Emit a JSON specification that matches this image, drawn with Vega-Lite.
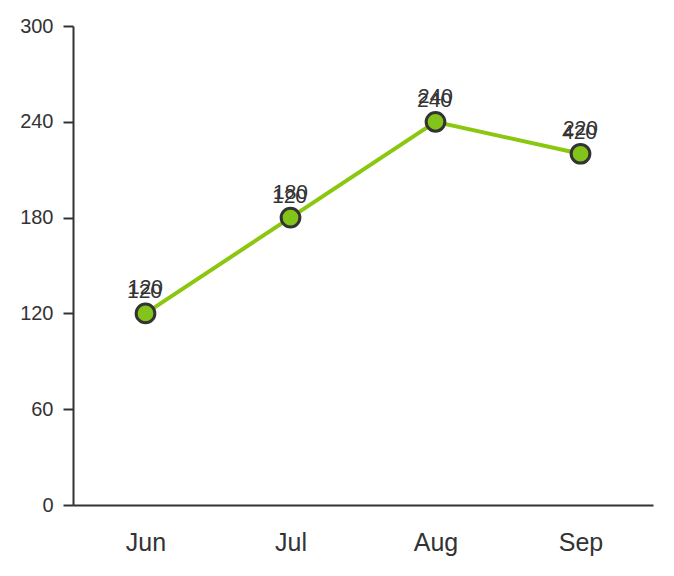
{
  "$schema": "https://vega.github.io/schema/vega-lite/v6.json",
  "width": 580,
  "height": 479,
  "autosize": "none",
  "padding": {"left": 73, "top": 26, "right": 21, "bottom": 71},
  "config": {
    "view": {"stroke": null},
    "font": "Liberation Sans",
    "axis": {"grid": false, "domainColor": "#333", "domainWidth": 2, "tickColor": "#333", "tickWidth": 2, "labelColor": "#333", "titleColor": "#333"}
  },
  "data": {
    "values": [
      {"month": "Jun", "value": 120, "other": 120},
      {"month": "Jul", "value": 180, "other": 120},
      {"month": "Aug", "value": 240, "other": 240},
      {"month": "Sep", "value": 220, "other": 420}
    ]
  },
  "encoding": {
    "x": {
      "field": "month",
      "type": "ordinal",
      "sort": null,
      "scale": {"type": "point", "padding": 0.5},
      "axis": {"title": null, "ticks": false, "labelAngle": 0, "labelFontSize": 25, "labelPadding": 25}
    },
    "y": {
      "field": "value",
      "type": "quantitative",
      "scale": {"domain": [0, 300], "nice": false},
      "axis": {"title": null, "values": [0, 60, 120, 180, 240, 300], "tickSize": 10, "labelFontSize": 20, "labelPadding": 10}
    }
  },
  "layer": [
    {"mark": {"type": "line", "color": "#8ac70e", "strokeWidth": 4}},
    {"mark": {"type": "point", "filled": true, "fill": "#82c41a", "stroke": "#333", "strokeWidth": 3, "size": 350, "opacity": 1}},
    {
      "mark": {"type": "text", "dy": -21, "dx": -1, "fontSize": 21, "color": "#333"},
      "encoding": {"text": {"field": "other"}}
    },
    {
      "mark": {"type": "text", "dy": -25, "fontSize": 21, "color": "#333"},
      "encoding": {"text": {"field": "value"}}
    }
  ]
}
